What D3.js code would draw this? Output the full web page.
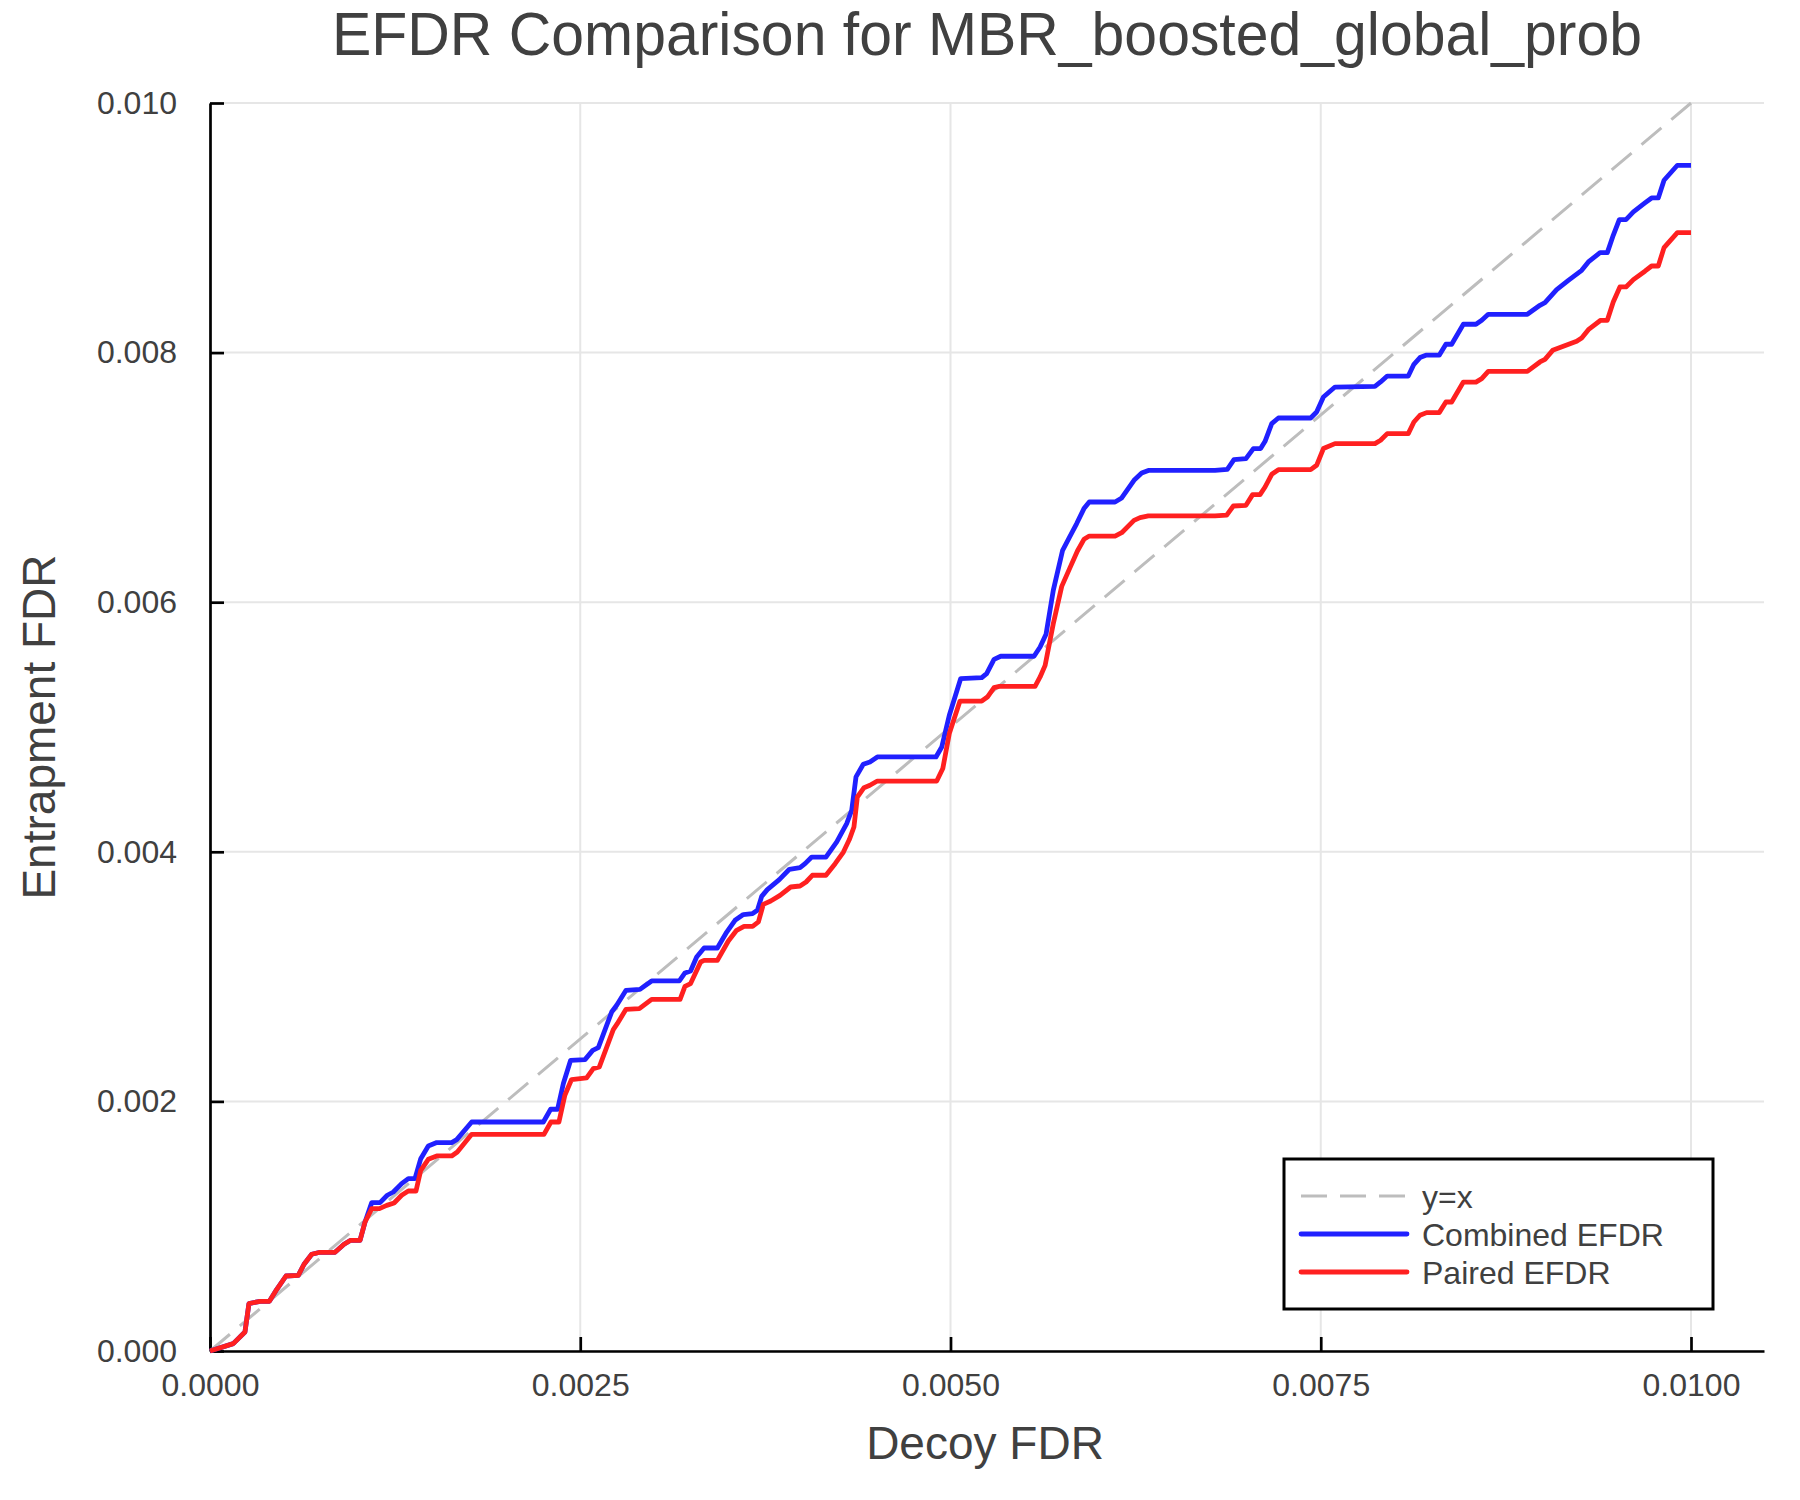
<!DOCTYPE html>
<html>
<head>
<meta charset="utf-8">
<script src="https://cdn.jsdelivr.net/npm/d3@7"></script>
<style>
  body { margin: 0; background: #ffffff; }
  text { font-family: "Liberation Sans", Arial, Helvetica, sans-serif; fill: #404040; }
</style>
</head>
<body>
<div id="chart"></div>
<script>
// data
const chartTitle = "EFDR Comparison for MBR_boosted_global_prob";
const xLabel = "Decoy FDR";
const yLabel = "Entrapment FDR";
const xTicks = [0, 0.0025, 0.005, 0.0075, 0.01];
const yTicks = [0, 0.002, 0.004, 0.006, 0.008, 0.01];
const seriesNames = ["y=x", "Combined EFDR", "Paired EFDR"];

const diagonalX = [0, 0.01];
const diagonalY = [0, 0.01];

const combinedX = [0, 0.000157, 0.000236, 0.000263, 0.000338, 0.000401, 0.000450, 0.000513, 0.000596, 0.000635,
  0.000687, 0.000743, 0.000844, 0.000905, 0.000950, 0.001013, 0.001047, 0.001092, 0.001148, 0.001197,
  0.001238, 0.001294, 0.001339, 0.001384, 0.001423, 0.001474, 0.001531, 0.001632, 0.001666, 0.001767,
  0.002251, 0.002300, 0.002347, 0.002386, 0.002435, 0.002532, 0.002584, 0.002622, 0.002712, 0.002746,
  0.002809, 0.002903, 0.002982, 0.003169, 0.003207, 0.003245, 0.003286, 0.003336, 0.003426, 0.003489,
  0.003545, 0.003601, 0.003664, 0.003696, 0.003725, 0.003763, 0.003844, 0.003912, 0.003984, 0.004018,
  0.004063, 0.004159, 0.004232, 0.004299, 0.004333, 0.004362, 0.004411, 0.004456, 0.004506, 0.004902,
  0.004941, 0.004992, 0.005069, 0.005211, 0.005244, 0.005294, 0.005339, 0.005564, 0.005605, 0.005645,
  0.005694, 0.005757, 0.005802, 0.005852, 0.005901, 0.005937, 0.006111, 0.006156, 0.006239, 0.006291,
  0.006336, 0.006786, 0.006869, 0.006914, 0.006995, 0.007045, 0.007094, 0.007124, 0.007169, 0.007214,
  0.007432, 0.007472, 0.007518, 0.007596, 0.007866, 0.007904, 0.007949, 0.008091, 0.008129, 0.008170,
  0.008210, 0.008300, 0.008345, 0.008384, 0.008463, 0.008548, 0.008587, 0.008631, 0.008895, 0.008980,
  0.009014, 0.009093, 0.009172, 0.009262, 0.009307, 0.009386, 0.009435, 0.009475, 0.009516, 0.009561,
  0.009611, 0.009689, 0.009734, 0.009779, 0.009818, 0.009908, 0.010000];
const combinedY = [0, 0.000059, 0.000152, 0.000380, 0.000398, 0.000398, 0.000492, 0.000601, 0.000606, 0.000695,
  0.000775, 0.000791, 0.000791, 0.000855, 0.000887, 0.000887, 0.001034, 0.001189, 0.001189, 0.001248,
  0.001274, 0.001341, 0.001381, 0.001381, 0.001541, 0.001643, 0.001670, 0.001670, 0.001694, 0.001835,
  0.001835, 0.001937, 0.001937, 0.002143, 0.002329, 0.002335, 0.002409, 0.002431, 0.002716, 0.002770,
  0.002890, 0.002898, 0.002965, 0.002965, 0.003029, 0.003045, 0.003157, 0.003229, 0.003229, 0.003357,
  0.003451, 0.003497, 0.003505, 0.003531, 0.003643, 0.003697, 0.003777, 0.003860, 0.003873, 0.003905,
  0.003958, 0.003958, 0.004079, 0.004226, 0.004333, 0.004600, 0.004701, 0.004720, 0.004760, 0.004760,
  0.004840, 0.005094, 0.005388, 0.005395, 0.005428, 0.005542, 0.005567, 0.005567, 0.005641, 0.005743,
  0.006095, 0.006416, 0.006517, 0.006630, 0.006750, 0.006803, 0.006803, 0.006835, 0.006977, 0.007035,
  0.007056, 0.007056, 0.007064, 0.007143, 0.007151, 0.007231, 0.007231, 0.007289, 0.007431, 0.007476,
  0.007476, 0.007524, 0.007644, 0.007724, 0.007730, 0.007765, 0.007812, 0.007812, 0.007906, 0.007960,
  0.007979, 0.007979, 0.008067, 0.008067, 0.008227, 0.008227, 0.008259, 0.008307, 0.008307, 0.008379,
  0.008400, 0.008505, 0.008579, 0.008659, 0.008726, 0.008801, 0.008801, 0.008940, 0.009066, 0.009066,
  0.009127, 0.009199, 0.009239, 0.009239, 0.009381, 0.009501, 0.009501];

const pairedX = [0, 0.000157, 0.000236, 0.000263, 0.000338, 0.000401, 0.000450, 0.000513, 0.000596, 0.000635,
  0.000687, 0.000743, 0.000844, 0.000905, 0.000950, 0.001013, 0.001047, 0.001092, 0.001144, 0.001193,
  0.001243, 0.001294, 0.001339, 0.001391, 0.001423, 0.001474, 0.001531, 0.001632, 0.001670, 0.001767,
  0.002255, 0.002302, 0.002356, 0.002396, 0.002441, 0.002543, 0.002588, 0.002629, 0.002723, 0.002750,
  0.002809, 0.002899, 0.002982, 0.003174, 0.003207, 0.003245, 0.003313, 0.003336, 0.003426, 0.003500,
  0.003556, 0.003606, 0.003664, 0.003703, 0.003736, 0.003786, 0.003849, 0.003921, 0.003984, 0.004025,
  0.004067, 0.004159, 0.004221, 0.004277, 0.004317, 0.004348, 0.004371, 0.004416, 0.004456, 0.004506,
  0.004907, 0.004948, 0.004992, 0.005064, 0.005211, 0.005249, 0.005294, 0.005330, 0.005571, 0.005605,
  0.005639, 0.005694, 0.005751, 0.005807, 0.005857, 0.005901, 0.005937, 0.006111, 0.006156, 0.006239,
  0.006280, 0.006336, 0.006786, 0.006865, 0.006910, 0.006995, 0.007040, 0.007090, 0.007124, 0.007169,
  0.007214, 0.007432, 0.007472, 0.007518, 0.007596, 0.007866, 0.007904, 0.007949, 0.008091, 0.008129,
  0.008170, 0.008215, 0.008300, 0.008345, 0.008384, 0.008463, 0.008548, 0.008587, 0.008631, 0.008895,
  0.008980, 0.009014, 0.009066, 0.009138, 0.009228, 0.009262, 0.009307, 0.009390, 0.009435, 0.009475,
  0.009520, 0.009561, 0.009611, 0.009689, 0.009734, 0.009779, 0.009818, 0.009908, 0.010000];
const pairedY = [0, 0.000059, 0.000152, 0.000380, 0.000398, 0.000398, 0.000492, 0.000601, 0.000606, 0.000695,
  0.000775, 0.000791, 0.000791, 0.000855, 0.000887, 0.000887, 0.001034, 0.001141, 0.001141, 0.001167,
  0.001186, 0.001248, 0.001282, 0.001282, 0.001448, 0.001536, 0.001563, 0.001563, 0.001595, 0.001736,
  0.001736, 0.001835, 0.001835, 0.002049, 0.002175, 0.002188, 0.002263, 0.002276, 0.002575, 0.002623,
  0.002738, 0.002743, 0.002818, 0.002818, 0.002922, 0.002944, 0.003117, 0.003130, 0.003130, 0.003285,
  0.003371, 0.003403, 0.003403, 0.003438, 0.003579, 0.003606, 0.003651, 0.003718, 0.003726, 0.003758,
  0.003812, 0.003812, 0.003905, 0.003998, 0.004098, 0.004199, 0.004439, 0.004514, 0.004533, 0.004567,
  0.004567, 0.004667, 0.004947, 0.005208, 0.005208, 0.005240, 0.005316, 0.005326, 0.005326, 0.005401,
  0.005494, 0.005828, 0.006127, 0.006277, 0.006410, 0.006504, 0.006530, 0.006530, 0.006557, 0.006656,
  0.006678, 0.006691, 0.006691, 0.006697, 0.006771, 0.006776, 0.006862, 0.006862, 0.006923, 0.007025,
  0.007062, 0.007062, 0.007097, 0.007231, 0.007271, 0.007271, 0.007298, 0.007351, 0.007351, 0.007444,
  0.007498, 0.007519, 0.007519, 0.007604, 0.007604, 0.007764, 0.007764, 0.007791, 0.007850, 0.007850,
  0.007925, 0.007946, 0.008018, 0.008050, 0.008090, 0.008117, 0.008184, 0.008259, 0.008259, 0.008405,
  0.008526, 0.008526, 0.008585, 0.008652, 0.008694, 0.008694, 0.008841, 0.008961, 0.008961];

let svg, xScale, yScale;

document.addEventListener('DOMContentLoaded', function () {
    createChart();
});

function createChart() {
    const width = 1800, height = 1500;
    const plot = { left: 210, right: 1764, top: 103, bottom: 1351 };

    svg = d3.select("#chart")
        .append("svg")
        .attr("width", width)
        .attr("height", height);

    // x range runs a bit past 0.01, like the original
    xScale = d3.scaleLinear()
        .domain([0, 0.01 * (plot.right - plot.left) / 1481])
        .range([plot.left, plot.right]);

    yScale = d3.scaleLinear()
        .domain([0, 0.01])
        .range([plot.bottom, plot.top]);

    // grid
    svg.append("g").selectAll("line")
        .data(xTicks)
        .join("line")
        .attr("x1", d => xScale(d)).attr("x2", d => xScale(d))
        .attr("y1", plot.top).attr("y2", plot.bottom)
        .attr("stroke", "#e6e6e6")
        .attr("stroke-width", 2);

    svg.append("g").selectAll("line")
        .data(yTicks)
        .join("line")
        .attr("x1", plot.left).attr("x2", plot.right)
        .attr("y1", d => yScale(d)).attr("y2", d => yScale(d))
        .attr("stroke", "#e6e6e6")
        .attr("stroke-width", 2);

    // axes, ticks pointing inward
    const xAxis = svg.append("g")
        .attr("transform", "translate(0," + plot.bottom + ")")
        .call(d3.axisBottom(xScale)
            .tickValues(xTicks)
            .tickFormat(d3.format(".4f"))
            .tickSizeInner(-14)
            .tickSizeOuter(0)
            .tickPadding(22));

    const yAxis = svg.append("g")
        .attr("transform", "translate(" + plot.left + ",0)")
        .call(d3.axisLeft(yScale)
            .tickValues(yTicks)
            .tickFormat(d3.format(".3f"))
            .tickSizeInner(-14)
            .tickSizeOuter(0)
            .tickPadding(33));

    [xAxis, yAxis].forEach(function (ax) {
        ax.select(".domain").attr("stroke", "black").attr("stroke-width", 2.7);
        ax.selectAll(".tick line").attr("stroke", "black").attr("stroke-width", 2.7);
        ax.selectAll(".tick text")
            .style("font-family", '"Liberation Sans", Arial, sans-serif')
            .style("font-size", "32px")
            .attr("fill", "#404040");
    });

    // lines
    const line = d3.line()
        .x(d => xScale(d[0]))
        .y(d => yScale(d[1]));

    svg.append("path")
        .datum(d3.zip(diagonalX, diagonalY))
        .attr("fill", "none")
        .attr("stroke", "#bdbdbd")
        .attr("stroke-width", 3)
        .attr("stroke-dasharray", "26,13")
        .attr("d", line);

    svg.append("path")
        .datum(d3.zip(combinedX, combinedY))
        .attr("fill", "none")
        .attr("stroke", "#2020ff")
        .attr("stroke-width", 4.8)
        .attr("stroke-linejoin", "round")
        .attr("d", line);

    svg.append("path")
        .datum(d3.zip(pairedX, pairedY))
        .attr("fill", "none")
        .attr("stroke", "#ff2020")
        .attr("stroke-width", 4.8)
        .attr("stroke-linejoin", "round")
        .attr("d", line);

    // title and labels
    svg.append("text")
        .attr("x", (plot.left + plot.right) / 2)
        .attr("y", 55)
        .attr("textLength", 1310)
        .attr("lengthAdjust", "spacingAndGlyphs")
        .style("text-anchor", "middle")
        .style("font-size", "61px")
        .text(chartTitle);

    svg.append("text")
        .attr("x", 985)
        .attr("y", 1459)
        .style("text-anchor", "middle")
        .style("font-size", "46px")
        .text(xLabel);

    svg.append("text")
        .attr("transform", "translate(55," + (plot.top + plot.bottom) / 2 + ") rotate(-90)")
        .style("text-anchor", "middle")
        .style("font-size", "46px")
        .text(yLabel);

    // legend
    const legend = svg.append("g").attr("transform", "translate(1284,1159)");
    legend.append("rect")
        .attr("width", 429)
        .attr("height", 150)
        .attr("fill", "white")
        .attr("stroke", "black")
        .attr("stroke-width", 3);

    const legendColors = ["#bdbdbd", "#2020ff", "#ff2020"];
    const legendDash = ["26,13", null, null];
    const legendWidth = [3, 4.8, 4.8];

    seriesNames.forEach(function (name, i) {
        const yPos = 37 + i * 38;
        legend.append("line")
            .attr("x1", 17).attr("x2", 123)
            .attr("y1", yPos).attr("y2", yPos)
            .attr("stroke", legendColors[i])
            .attr("stroke-width", legendWidth[i])
            .attr("stroke-dasharray", legendDash[i])
            .attr("stroke-linecap", i == 0 ? "butt" : "round");
        legend.append("text")
            .attr("x", 138)
            .attr("y", yPos)
            .attr("dy", "0.36em")
            .style("font-size", "32px")
            .text(name);
    });
}
</script>
</body>
</html>
